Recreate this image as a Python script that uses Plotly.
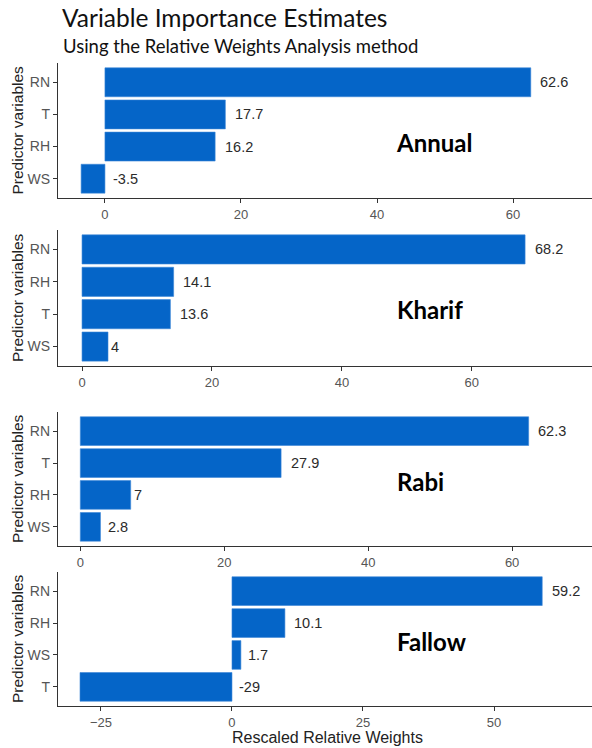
import plotly.graph_objects as go

# Relative-weights results per season (listed top to bottom as drawn)
annual_vars = ["RN", "T", "RH", "WS"]
annual_vals = [62.6, 17.7, 16.2, -3.5]

kharif_vars = ["RN", "RH", "T", "WS"]
kharif_vals = [68.2, 14.1, 13.6, 4]

rabi_vars = ["RN", "T", "RH", "WS"]
rabi_vals = [62.3, 27.9, 7, 2.8]

fallow_vars = ["RN", "RH", "WS", "T"]
fallow_vals = [59.2, 10.1, 1.7, -29]

season_names = ["Annual", "Kharif", "Rabi", "Fallow"]

annual_ticks = [0, 20, 40, 60]
kharif_ticks = [0, 20, 40, 60]
rabi_ticks = [0, 20, 40, 60]
fallow_ticks = [-25, 0, 25, 50]

W, H = 592, 748
BAR = "#0565c8"
AXIS = "#333333"
TICKTXT = "#555555"

panels = [
    dict(vars=annual_vars, vals=annual_vals, ticks=annual_ticks,
         xr=[-6.9, 71.6], top=63, bottom=198, name_xy=(434, 142)),
    dict(vars=kharif_vars, vals=kharif_vals, ticks=kharif_ticks,
         xr=[-3.7, 78.5], top=230, bottom=366, name_xy=(430, 309)),
    dict(vars=rabi_vars, vals=rabi_vals, ticks=rabi_ticks,
         xr=[-3.1, 71.1], top=412, bottom=546, name_xy=(420, 481)),
    dict(vars=fallow_vars, vals=fallow_vals, ticks=fallow_ticks,
         xr=[-33.2, 68.7], top=572, bottom=706, name_xy=(432, 641)),
]


def text_width(s, size):
    # rough advance width for Arial-like digits
    w = 0
    for ch in s:
        w += 0.278 if ch == "." else (0.333 if ch == "-" else 0.556)
    return w * size


fig = go.Figure()
annotations = []
LABEL_SIZE = 14.5

for i, p in enumerate(panels, start=1):
    xa = "x" if i == 1 else f"x{i}"
    ya = "y" if i == 1 else f"y{i}"
    fig.add_trace(go.Bar(
        x=p["vals"], y=p["vars"], orientation="h", width=0.9,
        marker=dict(color=BAR, line=dict(color="#3d87d6", width=0.6)),
        xaxis=xa, yaxis=ya, showlegend=False, hoverinfo="x+y",
    ))
    # value labels just past the end of each bar (or past zero for negatives)
    for v, c in zip(p["vals"], p["vars"]):
        label = f"{v:g}"
        annotations.append(dict(
            x=max(v, 0), y=c, xref=xa, yref=ya, text=label, showarrow=False,
            xanchor="left", yanchor="middle",
            xshift=0.3 * text_width(label, LABEL_SIZE) - 1,
            font=dict(family="Liberation Sans, Arial", size=LABEL_SIZE, color="#2b2b2b"),
        ))
    # season name inside the panel
    nx, ny = p["name_xy"]
    annotations.append(dict(
        x=nx / W, y=1 - ny / H, xref="paper", yref="paper",
        text=f"<b>{season_names[i - 1]}</b>", showarrow=False,
        xanchor="center", yanchor="middle",
        font=dict(family="Lato", size=24, color="#000000"),
    ))
    # y axis title for each panel
    annotations.append(dict(
        x=17 / W, y=1 - (p["top"] + p["bottom"]) / 2 / H, xref="paper", yref="paper",
        text="Predictor variables", textangle=-90, showarrow=False,
        xanchor="center", yanchor="middle",
        font=dict(family="Liberation Sans, Arial", size=15.5, color="#222222"),
    ))

    ydom = [1 - p["bottom"] / H, 1 - p["top"] / H]
    fig.layout[f"xaxis{'' if i == 1 else i}"] = dict(
        domain=[58 / W, 1.0], anchor=ya, range=p["xr"],
        tickmode="array", tickvals=p["ticks"],
        ticks="outside", ticklen=4, tickwidth=1, tickcolor=AXIS,
        showline=True, linecolor=AXIS, linewidth=1.2,
        showgrid=False, zeroline=False,
        tickfont=dict(family="Liberation Sans, Arial", size=13, color=TICKTXT),
        fixedrange=True,
    )
    fig.layout[f"yaxis{'' if i == 1 else i}"] = dict(
        domain=ydom, anchor=xa, type="category",
        categoryorder="array", categoryarray=p["vars"],
        range=[3.6, -0.6],
        ticks="outside", ticklen=4, tickwidth=1, tickcolor=AXIS,
        showline=True, linecolor=AXIS, linewidth=1.2,
        showgrid=False, zeroline=False,
        tickfont=dict(family="Liberation Sans, Arial", size=14, color=TICKTXT),
        fixedrange=True,
    )

# titles
annotations.append(dict(
    x=60 / W, y=1 - 18 / H, xref="paper", yref="paper",
    text="Variable Importance Estimates", showarrow=False,
    xanchor="left", yanchor="middle",
    font=dict(family="Lato", size=24.5, color="#111111"),
))
annotations.append(dict(
    x=61 / W, y=1 - 46 / H, xref="paper", yref="paper",
    text="Using the Relative Weights Analysis method", showarrow=False,
    xanchor="left", yanchor="middle",
    font=dict(family="Lato", size=18.5, color="#111111"),
))
annotations.append(dict(
    x=327 / W, y=1 - 737 / H, xref="paper", yref="paper",
    text="Rescaled Relative Weights", showarrow=False,
    xanchor="center", yanchor="middle",
    font=dict(family="Liberation Sans, Arial", size=16, color="#222222"),
))

fig.update_layout(
    width=W, height=H,
    margin=dict(l=0, r=0, t=0, b=0),
    paper_bgcolor="white", plot_bgcolor="white",
    annotations=annotations,
    bargap=0.1,
)

fig.write_html("out.html", config={"displayModeBar": False})
